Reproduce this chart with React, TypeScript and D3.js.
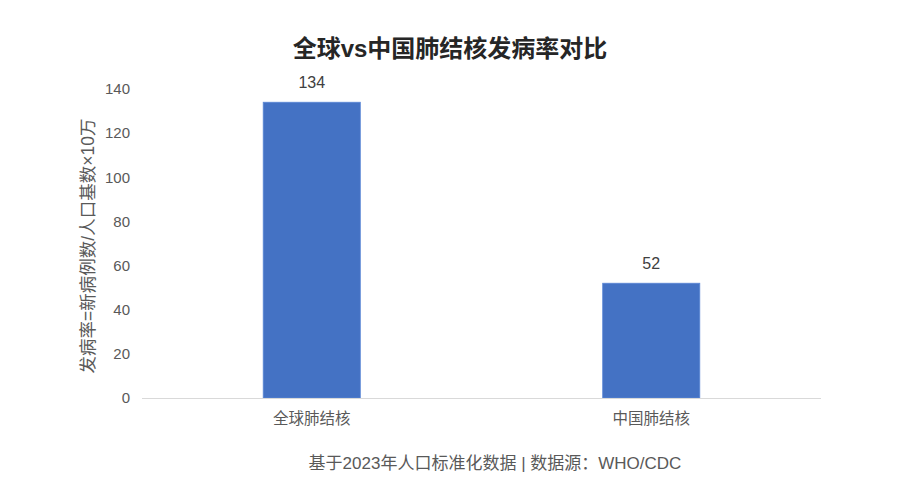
import { useEffect, useRef } from 'react'
import * as d3 from 'd3'

const categories = ['全球肺结核', '中国肺结核']
const values = [134, 52]
const yTicks = [0, 20, 40, 60, 80, 100, 120, 140]

const TITLE = '全球vs中国肺结核发病率对比'
const Y_LABEL = '发病率=新病例数/人口基数×10万'
const FOOTER = '基于2023年人口标准化数据 | 数据源：WHO/CDC'

const W = 900
const H = 500
const MARGIN = { top: 89, right: 79, bottom: 102, left: 142 }
const FONT = 'Arial, "Liberation Sans", "Noto Sans CJK SC", sans-serif'

export default function App() {
  const svgRef = useRef<SVGSVGElement>(null)

  useEffect(() => {
    if (!svgRef.current) return
    const svg = d3.select(svgRef.current)
    svg.selectAll('*').remove()

    const innerW = W - MARGIN.left - MARGIN.right
    const innerH = H - MARGIN.top - MARGIN.bottom

    const x = d3.scaleBand<string>().domain(categories).range([0, innerW]).padding(0)
    const y = d3.scaleLinear().domain([0, 140]).range([innerH, 0])
    const barW = x.bandwidth() * 0.286

    svg.append('rect').attr('width', W).attr('height', H).attr('fill', '#fff')

    // Title
    svg.append('text')
      .attr('x', W / 2).attr('y', 57)
      .attr('text-anchor', 'middle')
      .attr('font-size', 24).attr('font-weight', 'bold')
      .attr('font-family', FONT)
      .attr('fill', '#262626')
      .text(TITLE)

    const g = svg.append('g').attr('transform', `translate(${MARGIN.left},${MARGIN.top})`)

    // Y tick labels (no axis line, no grid)
    g.selectAll('.ytick').data(yTicks).join('text')
      .attr('x', -12).attr('y', d => y(d))
      .attr('dy', '0.35em')
      .attr('text-anchor', 'end')
      .attr('font-size', 15).attr('font-family', FONT)
      .attr('fill', '#595959')
      .text(d => d)

    // Bars
    g.selectAll('.bar').data(values).join('rect')
      .attr('x', (_, i) => x(categories[i])! + x.bandwidth() / 2 - barW / 2)
      .attr('y', d => y(d))
      .attr('width', barW)
      .attr('height', d => innerH - y(d))
      .attr('fill', '#4472c4')
      .attr('stroke', '#5b87d6').attr('stroke-width', 0.8)

    // Value labels
    g.selectAll('.val').data(values).join('text')
      .attr('x', (_, i) => x(categories[i])! + x.bandwidth() / 2)
      .attr('y', d => y(d) - 14)
      .attr('text-anchor', 'middle')
      .attr('font-size', 16).attr('font-family', FONT)
      .attr('fill', '#404040')
      .text(d => d)

    // Baseline
    g.append('line')
      .attr('x1', 0).attr('x2', innerW)
      .attr('y1', y(0) + 0.5).attr('y2', y(0) + 0.5)
      .attr('stroke', '#d9d9d9').attr('stroke-width', 1.2)

    // Category labels
    g.selectAll('.cat').data(categories).join('text')
      .attr('x', d => x(d)! + x.bandwidth() / 2)
      .attr('y', innerH + 26)
      .attr('text-anchor', 'middle')
      .attr('font-size', 15.5).attr('font-family', FONT)
      .attr('fill', '#595959')
      .text(d => d)

    // Y axis title
    svg.append('text')
      .attr('transform', `translate(94,${246}) rotate(-90)`)
      .attr('text-anchor', 'middle')
      .attr('font-size', 17.5).attr('font-family', FONT)
      .attr('fill', '#595959')
      .text(Y_LABEL)

    // Footer
    svg.append('text')
      .attr('x', 495).attr('y', 469)
      .attr('text-anchor', 'middle')
      .attr('font-size', 17).attr('font-family', FONT)
      .attr('fill', '#595959')
      .text(FOOTER)
  }, [])

  return (
    <svg
      ref={svgRef}
      width={W}
      height={H}
      style={{ display: 'block', position: 'absolute', left: 0, top: 0 }}
    />
  )
}
